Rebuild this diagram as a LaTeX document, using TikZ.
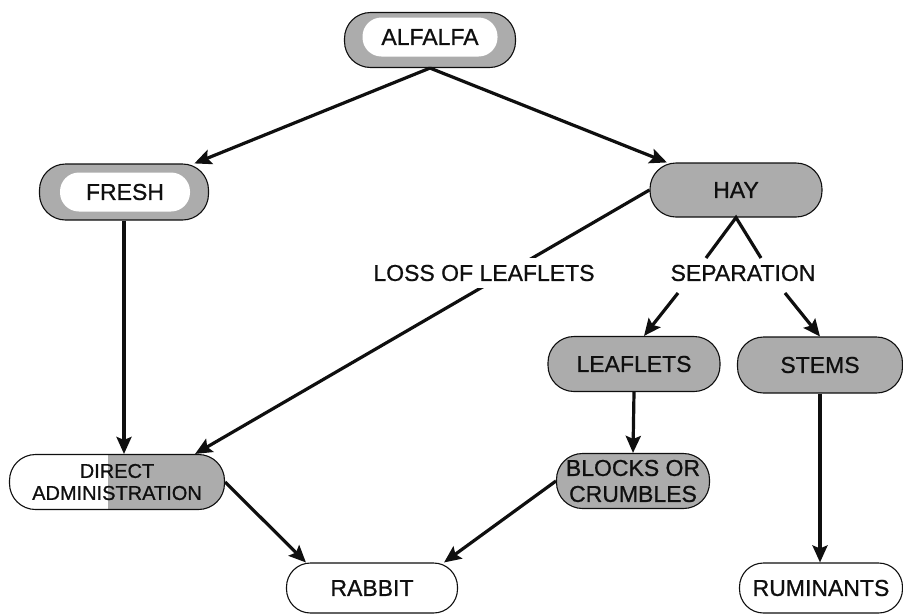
\documentclass[tikz,border=0pt]{standalone}
\usepackage{fontspec}
\setmainfont{Liberation Sans}[FakeBold=0.8]
\usetikzlibrary{arrows.meta}
\definecolor{pillgray}{RGB}{172,172,172}
\definecolor{inkblack}{RGB}{15,15,15}

\begin{document}
\begin{tikzpicture}[x=1pt, y=-1pt, >={Stealth[length=17pt, width=15pt, inset=3pt]}]
  \tikzstyle{pill} = [rectangle, draw=inkblack, line width=1.1pt, rounded corners=26pt, minimum height=55pt, inner sep=0pt, align=center, text=inkblack, font=\fontsize{23}{26}\selectfont]
  \tikzstyle{graypill} = [pill, fill=pillgray]
  \tikzstyle{whitepill} = [pill, fill=white, minimum height=50pt, rounded corners=24pt]
  \tikzstyle{core} = [rectangle, fill=white, rounded corners=19pt, inner sep=0pt, minimum height=39pt, text=inkblack, font=\fontsize{23}{26}\selectfont]
  \tikzstyle{tag} = [fill=white, inner xsep=3pt, inner ysep=7pt, text=inkblack, font=\fontsize{23}{26}\selectfont]
  \tikzstyle{arrowline} = [->, line width=3.2pt, draw=inkblack]
  \tikzstyle{plainline} = [line width=3.2pt, draw=inkblack]

  \useasboundingbox (0,0) rectangle (903,614);

  % sources
  \node [graypill, minimum width=171pt] (alfalfa) at (430,40) {};
  \node [core, minimum width=135pt] (alfalfaIn) at (430,37) {ALFALFA};
  \node [graypill, minimum width=169pt, minimum height=56pt] (fresh) at (124,192) {};
  \node [core, minimum width=130pt] (freshIn) at (125,192) {FRESH};
  \node [graypill, minimum width=172pt, minimum height=54pt] (hay) at (736,190) {HAY};

  % fractions
  \node [graypill, minimum width=172pt] (leaflets) at (634,364) {LEAFLETS};
  \node [graypill, minimum width=165pt, minimum height=56pt] (stems) at (820,365) {STEMS};
  \node [pill, minimum width=215pt, font=\fontsize{20}{22}\selectfont,
    path picture={\fill[pillgray, sharp corners] ([xshift=-9pt]path picture bounding box.north) rectangle (path picture bounding box.south east);}]
    (direct) at (117,482) {DIRECT\\ADMINISTRATION};
  \node [graypill, minimum width=153pt] (blocks) at (633,481) {BLOCKS OR\\CRUMBLES};

  % animals
  \node [whitepill, minimum width=171pt] (rabbit) at (372,588) {RABBIT};
  \node [whitepill, minimum width=163pt] (ruminants) at (821,588) {RUMINANTS};

  \coordinate (sepL) at (706,258);
  \coordinate (sepR) at (761,258);
  \coordinate (sepBL) at (678,293);
  \coordinate (sepBR) at (785,293);

  \draw [arrowline] (alfalfa.south) -- (fresh);
  \draw [arrowline] (alfalfa.south) -- (hay);
  \draw [arrowline] (fresh.south) -- (fresh.south |- direct.north);
  \draw [arrowline] (hay.west) -- ([xshift=-30pt]direct.north east);
  \node [tag] (loss) at (484,273) {LOSS OF LEAFLETS};

  \draw [plainline] (sepL) -- (hay.south) -- (sepR);
  \node [tag, inner ysep=2pt] (separation) at (743,273) {SEPARATION};
  \draw [arrowline] (sepBL) -- ([xshift=10pt]leaflets.north);
  \draw [arrowline] (sepBR) -- (stems.north);

  \draw [arrowline] (leaflets.south) -- (blocks.north);
  \draw [arrowline] (stems.south) -- (stems.south |- ruminants.north);
  \draw [arrowline] (direct.east) -- ([xshift=20pt]rabbit.north west);
  \draw [arrowline] (blocks.west) -- ([xshift=-14pt]rabbit.north east);
\end{tikzpicture}
\end{document}
